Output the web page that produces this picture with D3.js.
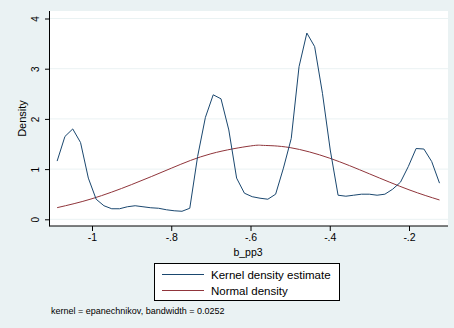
<!DOCTYPE html>
<html>
<head>
<meta charset="utf-8">
<script src="https://cdn.jsdelivr.net/npm/d3@7"></script>
<style>
  body { margin: 0; background: #eaf2f3; }
  text { font-family: "Liberation Sans", Arial, sans-serif; fill: #000; }
</style>
</head>
<body>
<div id="chart"></div>
<script>
// kernel density estimate, 50 evaluation points
const kdeStart = -1.088;
const kdeEnd = -0.123;
const kdeValues = [
  1.16, 1.65, 1.80, 1.53, 0.82, 0.40, 0.27, 0.21, 0.21, 0.25,
  0.27, 0.25, 0.23, 0.22, 0.19, 0.17, 0.16, 0.22, 1.25, 2.03,
  2.48, 2.40, 1.78, 0.82, 0.52, 0.45, 0.42, 0.40, 0.50, 1.02,
  1.61, 3.04, 3.71, 3.44, 2.51, 1.38, 0.48, 0.46, 0.48, 0.50,
  0.50, 0.48, 0.50, 0.60, 0.74, 1.05, 1.41, 1.40, 1.15, 0.72
];
// normal density
const normalX = [-1.088, -1.0, -0.9, -0.8, -0.7, -0.6, -0.567, -0.5, -0.4, -0.3, -0.2, -0.123];
const normalY = [0.232, 0.41, 0.692, 1.017, 1.305, 1.461, 1.472, 1.428, 1.217, 0.906, 0.588, 0.385];

const xTicks = [-1, -0.8, -0.6, -0.4, -0.2];
const xTickLabels = ['-1', '-.8', '-.6', '-.4', '-.2'];
const yTicks = [0, 1, 2, 3, 4];

const width = 454;
const height = 328;

const svg = d3.select('#chart').append('svg')
  .attr('width', width)
  .attr('height', height);

svg.append('rect')
  .attr('width', width)
  .attr('height', height)
  .attr('fill', '#eaf2f3');

const plot = { left: 50, right: 448, top: 11, bottom: 226 };

svg.append('rect')
  .attr('x', plot.left)
  .attr('y', plot.top)
  .attr('width', plot.right - plot.left)
  .attr('height', plot.bottom - plot.top)
  .attr('fill', '#fff');

const xScale = d3.scaleLinear()
  .domain([-1, -0.2])
  .range([92, 409]);

const yScale = d3.scaleLinear()
  .domain([0, 4])
  .range([219.3, 18.5]);

// grid
svg.append('g')
  .selectAll('line')
  .data(yTicks)
  .enter()
  .append('line')
  .attr('x1', plot.left)
  .attr('x2', plot.right)
  .attr('y1', d => yScale(d))
  .attr('y2', d => yScale(d))
  .attr('stroke', '#eaf2f3')
  .attr('stroke-width', 1);

// axes
const yAxis = d3.axisLeft(yScale)
  .tickValues(yTicks)
  .tickSize(5)
  .tickFormat(d3.format('d'));

const yAxisGroup = svg.append('g')
  .attr('transform', `translate(${plot.left},0)`)
  .call(yAxis);
yAxisGroup.select('.domain').remove();
// stata draws y labels rotated
yAxisGroup.selectAll('.tick text')
  .attr('font-size', 10)
  .attr('font-family', '"Liberation Sans", Arial, sans-serif')
  .attr('text-anchor', 'middle')
  .attr('x', 0)
  .attr('y', 0)
  .attr('dy', 0)
  .attr('transform', 'translate(-11,0) rotate(-90)');

const xAxis = d3.axisBottom(xScale)
  .tickValues(xTicks)
  .tickSize(5)
  .tickPadding(3)
  .tickFormat((d, i) => xTickLabels[i]);

const xAxisGroup = svg.append('g')
  .attr('transform', `translate(0,${plot.bottom})`)
  .call(xAxis);
xAxisGroup.select('.domain').remove();
xAxisGroup.selectAll('.tick text')
  .attr('font-size', 10.5)
  .attr('font-family', '"Liberation Sans", Arial, sans-serif');

svg.selectAll('.tick line').attr('stroke', '#000');

// axis lines
svg.append('line')
  .attr('x1', plot.left - 0.5).attr('x2', plot.left - 0.5)
  .attr('y1', plot.top).attr('y2', plot.bottom + 0.5)
  .attr('stroke', '#000').attr('stroke-width', 1);
svg.append('line')
  .attr('x1', plot.left - 0.5).attr('x2', plot.right)
  .attr('y1', plot.bottom).attr('y2', plot.bottom)
  .attr('stroke', '#000').attr('stroke-width', 1);

// axis titles
svg.append('text')
  .attr('transform', `translate(26,${(plot.top + plot.bottom) / 2}) rotate(-90)`)
  .attr('text-anchor', 'middle')
  .attr('font-size', 11)
  .text('Density');

svg.append('text')
  .attr('x', 248)
  .attr('y', 255.5)
  .attr('text-anchor', 'middle')
  .attr('font-size', 10.5)
  .text('b_pp3');

// lines
const step = (kdeEnd - kdeStart) / (kdeValues.length - 1);
const kdeData = kdeValues.map((v, i) => ({ x: kdeStart + i * step, y: v }));
const normalData = normalX.map((x, i) => ({ x: x, y: normalY[i] }));

svg.append('path')
  .datum(normalData)
  .attr('d', d3.line().x(d => xScale(d.x)).y(d => yScale(d.y)).curve(d3.curveNatural))
  .attr('fill', 'none')
  .attr('stroke', '#90353b')
  .attr('stroke-width', 1);

svg.append('path')
  .datum(kdeData)
  .attr('d', d3.line().x(d => xScale(d.x)).y(d => yScale(d.y)))
  .attr('fill', 'none')
  .attr('stroke', '#1a476f')
  .attr('stroke-width', 1);

// legend
const legend = svg.append('g');
legend.append('rect')
  .attr('x', 154.5).attr('y', 263.5)
  .attr('width', 185).attr('height', 37)
  .attr('fill', '#fff')
  .attr('stroke', '#000')
  .attr('stroke-width', 1);

const legendItems = [
  { label: 'Kernel density estimate', color: '#1a476f', y: 274.5 },
  { label: 'Normal density', color: '#90353b', y: 290.5 }
];
legendItems.forEach(item => {
  legend.append('line')
    .attr('x1', 162).attr('x2', 204)
    .attr('y1', item.y).attr('y2', item.y)
    .attr('stroke', item.color)
    .attr('stroke-width', 1);
  legend.append('text')
    .attr('x', 211)
    .attr('y', item.y + 4)
    .attr('font-size', 11.5)
    .text(item.label);
});

svg.append('text')
  .attr('x', 51)
  .attr('y', 314)
  .attr('font-size', 9)
  .text('kernel = epanechnikov, bandwidth = 0.0252');
</script>
</body>
</html>
